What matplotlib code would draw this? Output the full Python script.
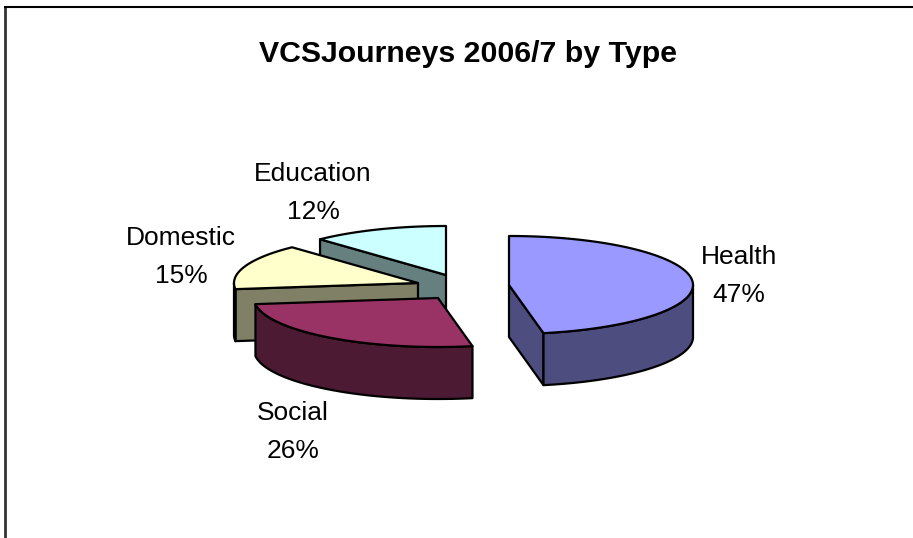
import matplotlib
matplotlib.use('Agg')
import matplotlib.pyplot as plt, numpy as np

title = 'VCSJourneys 2006/7 by Type'
categories = ['Health', 'Social', 'Domestic', 'Education']
shares = [47, 26, 15, 12]
top_colors = ['#9999FF', '#993366', '#FFFFCC', '#CCFFFF']
side_colors = ['#4D4D80', '#4D1A33', '#808066', '#668080']

# exploded slice centres and label anchors, in pixels
centres = [(509, 285), (438, 298), (418, 283), (446, 275)]
label_pos = [(739, 276), (293, 432), (181, 257), (313, 193)]
RX, RY, DEPTH = 184, 49, 52


def rim(cx, cy, a, b):
    t = np.radians(np.linspace(a, b, max(int(abs(b - a)) + 2, 2)))
    return np.column_stack([cx + RX * np.sin(t), cy - RY * np.cos(t)])


fig = plt.figure(figsize=(9.13, 5.38), dpi=100)
ax = fig.add_axes([0, 0, 1, 1])
ax.set_xlim(0, 913)
ax.set_ylim(538, 0)
ax.axis('off')

ax.plot([5, 5], [538, 7], color='#333333', lw=2)
ax.plot([5, 913], [7, 7], color='black', lw=1.5)

edges = np.cumsum([0] + shares) / sum(shares) * 360
style = dict(edgecolor='black', lw=1.6, joinstyle='round')

# back slices first so the nearer ones paint over them
for i in [3, 2, 1, 0]:
    cx, cy = centres[i]
    a, b = edges[i], edges[i + 1]
    drop = np.array([0, DEPTH])
    centre = np.array([cx, cy])
    if np.sin(np.radians(a)) < -1e-6:
        p = rim(cx, cy, a, a)[0]
        ax.fill(*np.array([centre, p, p + drop, centre + drop]).T, facecolor=side_colors[i], **style)
    if np.sin(np.radians(b)) > 1e-6:
        p = rim(cx, cy, b, b)[0]
        ax.fill(*np.array([centre, p, p + drop, centre + drop]).T, facecolor=side_colors[i], **style)
    lo, hi = max(a, 90), min(b, 270)
    if lo < hi:
        arc = rim(cx, cy, lo, hi)
        wall = np.vstack([arc, arc[::-1] + drop])
        ax.fill(wall[:, 0], wall[:, 1], facecolor=side_colors[i], **style)
    top = np.vstack([centre, rim(cx, cy, a, b)])
    ax.fill(top[:, 0], top[:, 1], facecolor=top_colors[i], **style)

ax.text(468, 54, title, ha='center', va='center', family='Liberation Sans',
        fontsize=21.8, fontweight='bold', color='black')
for name, share, (x, y) in zip(categories, shares, label_pos):
    ax.text(x, y, f'{name}\n{share}%', ha='center', va='center', family='Liberation Sans',
            fontsize=19, color='black', linespacing=1.72)

fig.savefig('out.png', dpi=100)
